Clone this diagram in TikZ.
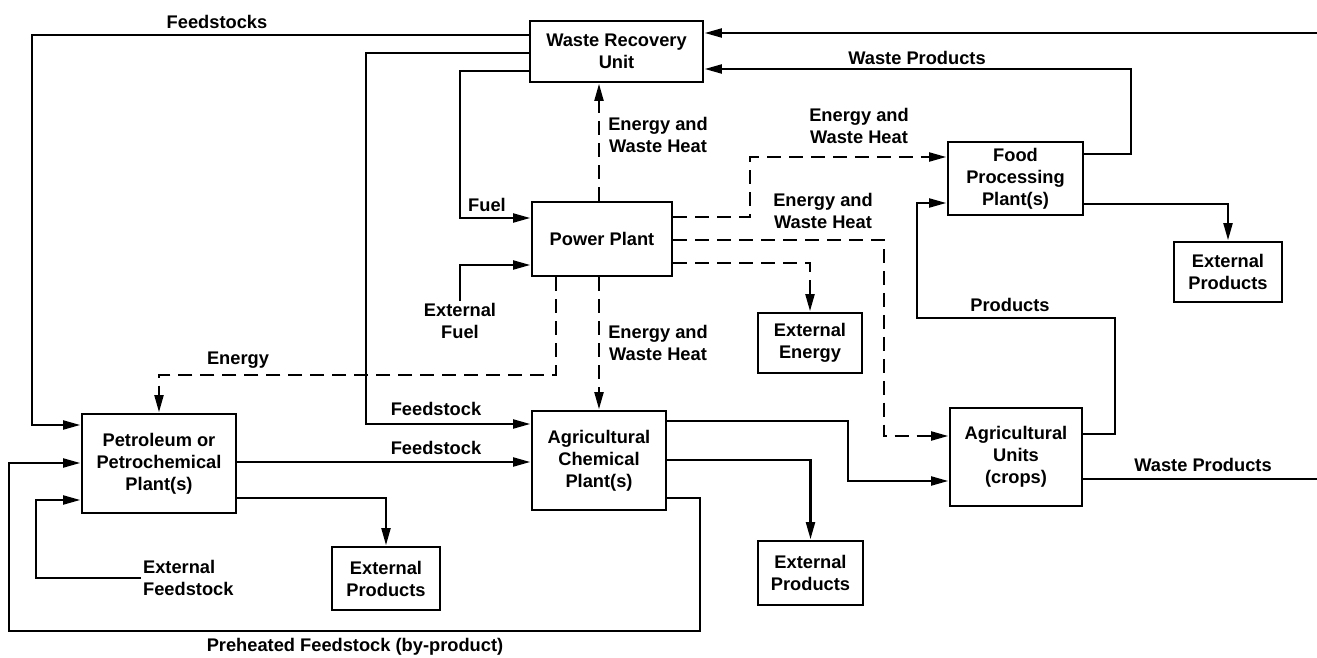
\documentclass[tikz,border=0pt]{standalone}
\usepackage{fontspec}
\setmainfont{Liberation Sans}
\usetikzlibrary{arrows.meta,positioning}

\begin{document}
\begin{tikzpicture}[x=0.02cm, y=-0.02cm, font=\bfseries\fontsize{10.4}{12.5}\selectfont, box/.style={draw, line width=1.6pt, align=center, inner sep=1pt}, arr/.style={-{Triangle[length=10pt,width=5pt]}, line width=1.6pt}, darr/.style={arr, dash pattern=on 8pt off 4.5pt}, lbl/.style={align=center, inner sep=1pt}]
\useasboundingbox (0,0) rectangle (1317,658);
% boxes
\node[box, minimum width=3.46cm, minimum height=1.22cm] (wru) at (616.5,51.5) {Waste Recovery\\Unit};
\node[box, minimum width=2.8cm, minimum height=1.48cm] (pp) at (602,239) {Power Plant};
\node[box, minimum width=2.7cm, minimum height=1.46cm] (fpp) at (1015.5,178.5) {Food\\Processing\\Plant(s)};
\node[box, minimum width=2.16cm, minimum height=1.2cm] (ep3) at (1228,272) {External\\Products};
\node[box, minimum width=2.08cm, minimum height=1.2cm] (ee) at (810,343) {External\\Energy};
\node[box, minimum width=3.08cm, minimum height=1.98cm] (pet) at (159,463.5) {Petroleum or\\Petrochemical\\Plant(s)};
\node[box, minimum width=2.68cm, minimum height=1.98cm] (acp) at (599,460.5) {Agricultural\\Chemical\\Plant(s)};
\node[box, minimum width=2.64cm, minimum height=1.96cm] (au) at (1016,457) {Agricultural\\Units\\(crops)};
\node[box, minimum width=2.16cm, minimum height=1.26cm] (ep1) at (386,578.5) {External\\Products};
\node[box, minimum width=2.1cm, minimum height=1.28cm] (ep2) at (810.5,573) {External\\Products};
% free ends and outside inputs
\node[lbl] (xfuel) at (460,321) {External\\Fuel};
\node[lbl, anchor=west, align=left] (xfeed) at (141,578) {External\\Feedstock};
\coordinate (wpin) at (1317,33);
\coordinate (wpout) at (1317,479);
% solid flows
\draw[arr] (wru.west |- 0,35) -- (32,35) -- (32,425) -- (pet.west |- 0,425);
\node[lbl] at (217,22) {Feedstocks};
\draw[arr] (wru.west |- 0,53) -- (366,53) -- (366,424) -- (acp.west |- 0,424);
\node[lbl] at (436,409) {Feedstock};
\draw[arr] (wru.west |- 0,71) -- (460,71) -- (460,218) -- (pp.west |- 0,218);
\node[lbl] at (487,205) {Fuel};
\draw[arr] (xfuel.north) |- (pp.west |- 0,265);
\draw[arr] (wpin) -- (wru.east |- 0,33);
\draw[arr] (fpp.east |- 0,154) -- (1131,154) -- (1131,69) -- (wru.east |- 0,69);
\node[lbl] at (917,58) {Waste Products};
\draw[arr] (fpp.east |- 0,204) -| (ep3.north);
\draw[arr] (au.east |- 0,434) -- (1115,434) -- (1115,318) -- (917,318) -- (917,203) -- (fpp.west |- 0,203);
\node[lbl] at (1010,305) {Products};
\draw[line width=1.6pt] (au.east |- 0,479) -- (wpout);
\node[lbl] at (1203,465) {Waste Products};
\draw[arr] (acp.east |- 0,421) -- (848,421) -- (848,481) -- (au.west |- 0,481);
\draw[arr] (acp.east |- 0,460) -| (ep2.north);
\draw[arr] (acp.east |- 0,498) -- (700,498) -- (700,631) -- (9,631) -- (9,463) -- (pet.west |- 0,463);
\node[lbl] at (355,647) {Preheated Feedstock (by-product)};
\draw[arr] (pet.east |- 0,462) -- (acp.west |- 0,462);
\node[lbl] at (436,448) {Feedstock};
\draw[arr] (pet.east |- 0,498) -| (ep1.north);
\draw[arr] (xfeed.west) -- (36,578) -- (36,500) -- (pet.west |- 0,500);
% energy flows
\draw[darr] (pp.north -| 599,0) -- (wru.south -| 599,0);
\node[lbl] at (658,135) {Energy and\\Waste Heat};
\draw[darr] (pp.south -| 556,0) -- (556,375) -| (pet.north);
\node[lbl] at (238,360) {Energy};
\draw[darr] (pp.south -| 599,0) -- (acp.north -| 599,0);
\node[lbl] at (658,343) {Energy and\\Waste Heat};
\draw[darr] (pp.east |- 0,217) -- (750,217) -- (750,157) -- (fpp.west |- 0,157);
\node[lbl] at (859,126) {Energy and\\Waste Heat};
\draw[darr] (pp.east |- 0,240) -- (884,240) -- (884,436) -- (au.west |- 0,436);
\node[lbl] at (823,211) {Energy and\\Waste Heat};
\draw[darr] (pp.east |- 0,263) -| (ee.north);
\end{tikzpicture}
\end{document}
